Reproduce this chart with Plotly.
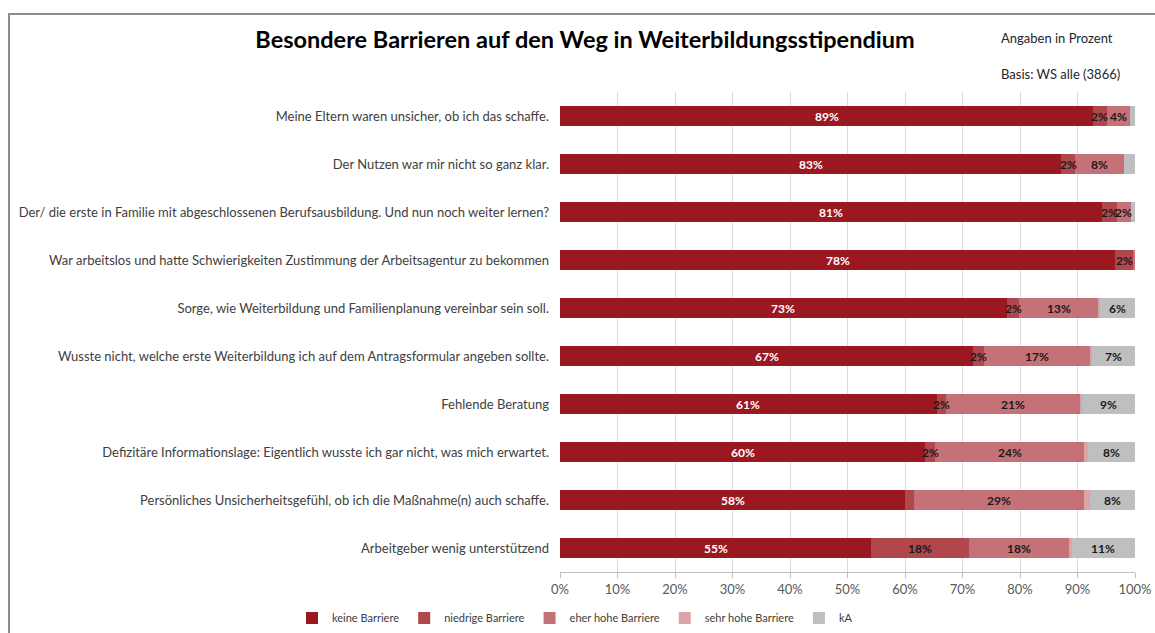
import plotly.graph_objects as go

categories = [
    "Meine Eltern waren unsicher, ob ich das schaffe.",
    "Der Nutzen war mir nicht so ganz klar.",
    "Der/ die erste in Familie mit abgeschlossenen Berufsausbildung. Und nun noch weiter lernen?",
    "War arbeitslos und hatte Schwierigkeiten Zustimmung der Arbeitsagentur zu bekommen",
    "Sorge, wie Weiterbildung und Familienplanung vereinbar sein soll.",
    "Wusste nicht, welche erste Weiterbildung ich auf dem Antragsformular angeben sollte.",
    "Fehlende Beratung",
    "Defizitäre Informationslage: Eigentlich wusste ich gar nicht, was mich erwartet.",
    "Persönliches Unsicherheitsgefühl, ob ich die Maßnahme(n) auch schaffe.",
    "Arbeitgeber wenig unterstützend",
]

# bar lengths (share of 100%) as drawn
keine = [92.7, 87.2, 94.3, 96.6, 77.7, 71.9, 65.5, 63.5, 60.0, 54.1]
niedrige = [2.4, 2.4, 2.5, 3.0, 2.2, 1.8, 1.7, 1.7, 1.6, 17.1]
eher = [4.1, 8.5, 2.5, 0.4, 13.7, 18.5, 23.2, 26.0, 29.6, 17.4]
sehr = [0.0, 0.0, 0.0, 0.0, 0.3, 0.4, 0.4, 0.6, 1.0, 0.4]
ka = [0.8, 1.9, 0.7, 0.0, 6.1, 7.4, 9.2, 8.2, 7.8, 11.0]

# printed data labels
keine_lbl = ["89%", "83%", "81%", "78%", "73%", "67%", "61%", "60%", "58%", "55%"]
niedrige_lbl = ["2%", "2%", "2%", "2%", "2%", "2%", "2%", "2%", "", "18%"]
eher_lbl = ["4%", "8%", "2%", "", "13%", "17%", "21%", "24%", "29%", "18%"]
sehr_lbl = ["", "", "", "", "", "", "", "", "", ""]
ka_lbl = ["", "", "", "", "6%", "7%", "9%", "8%", "8%", "11%"]

series = [
    ("keine Barriere", keine, keine_lbl, "#9B1820", "white"),
    ("niedrige Barriere", niedrige, niedrige_lbl, "#B0474D", "#1a1a1a"),
    ("eher hohe Barriere", eher, eher_lbl, "#C47277", "#1a1a1a"),
    ("sehr hohe Barriere", sehr, sehr_lbl, "#DCA4A8", "#1a1a1a"),
    ("kA", ka, ka_lbl, "#BFBFBF", "#1a1a1a"),
]

x_ticks = [0, 10, 20, 30, 40, 50, 60, 70, 80, 90, 100]
x_tick_labels = ["0%", "10%", "20%", "30%", "40%", "50%", "60%", "70%", "80%", "90%", "100%"]

FONT = "Lato, Carlito, Calibri, sans-serif"

W, H = 1155, 633
L, R, T, B = 560, 20, 92, 61
pw, ph = W - L - R, H - T - B

def px(x):
    return (x - L) / pw

def py(y):
    return (H - B - y) / ph

fig = go.Figure()
annotations = []
cum = [0.0] * len(categories)
for name, vals, lbls, color, tcol in series:
    fig.add_trace(go.Bar(
        y=categories, x=vals, name=name, orientation="h",
        marker=dict(color=color, line=dict(width=0)),
        hoverinfo="skip",
    ))
    for i, (v, t) in enumerate(zip(vals, lbls)):
        if t:
            annotations.append(dict(
                x=cum[i] + v / 2, y=categories[i], xref="x", yref="y",
                text=f"<b>{t}</b>", showarrow=False,
                xanchor="center", yanchor="middle",
                font=dict(size=12, color=tcol, family=FONT),
            ))
        cum[i] += v

annotations += [
    dict(text="Angaben in Prozent", xref="paper", yref="paper",
         x=px(999), y=py(38), xanchor="left", yanchor="middle",
         showarrow=False, font=dict(size=13, color="#262626", family=FONT)),
    dict(text="Basis: WS alle (3866)", xref="paper", yref="paper",
         x=px(999), y=py(74), xanchor="left", yanchor="middle",
         showarrow=False, font=dict(size=13, color="#262626", family=FONT)),
]

fig.update_layout(
    width=W, height=H,
    barmode="stack", bargap=0.6,
    margin=dict(l=L, r=R, t=T, b=B, autoexpand=False),
    paper_bgcolor="white", plot_bgcolor="white",
    font=dict(family=FONT, size=13, color="#404040"),
    title=dict(
        text="<b>Besondere Barrieren auf den Weg in Weiterbildungsstipendium</b>",
        x=585 / W, xanchor="center", y=1 - 40 / H, yanchor="middle",
        font=dict(size=23.5, color="#000000", family=FONT),
    ),
    legend=dict(
        orientation="h", x=px(292), xanchor="left", y=py(618), yanchor="middle",
        font=dict(size=11, color="#404040", family=FONT),
        traceorder="normal", itemwidth=30, bgcolor="rgba(0,0,0,0)",
    ),
    xaxis=dict(
        range=[0, 100], tickvals=x_ticks, ticktext=x_tick_labels,
        showgrid=True, gridcolor="#D9D9D9", gridwidth=1,
        showline=True, linecolor="#BFBFBF", linewidth=1,
        ticks="outside", ticklen=5, tickcolor="#BFBFBF",
        tickfont=dict(size=13, color="#595959", family=FONT),
        zeroline=False, automargin=False,
    ),
    yaxis=dict(
        autorange="reversed", showgrid=False, zeroline=False,
        showline=False, ticks="", ticklabelstandoff=10,
        tickfont=dict(size=13, color="#404040", family=FONT),
        automargin=False,
    ),
    annotations=annotations,
    shapes=[
        dict(type="rect", xref="paper", yref="paper",
             x0=px(9), y0=py(660), x1=px(1190), y1=py(14),
             line=dict(color="#8C8C8C", width=2), layer="below"),
    ],
)

fig.write_html(
    "out.html",
    config={"displayModeBar": False},
    post_script="document.body.style.margin='0';document.body.style.overflow='hidden';",
)
